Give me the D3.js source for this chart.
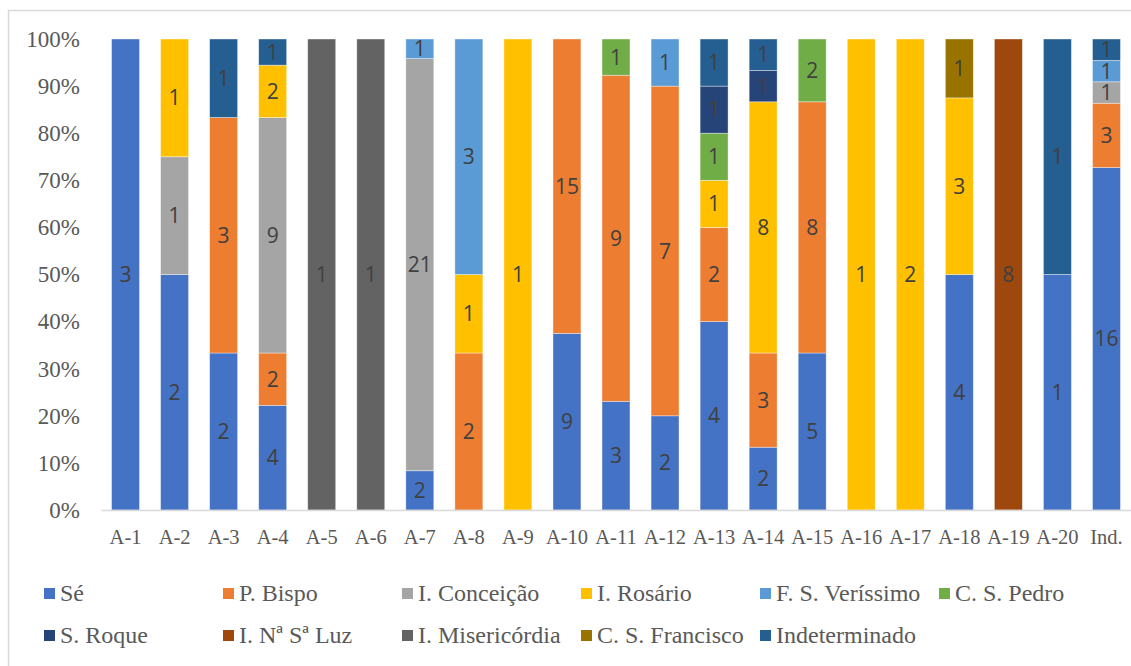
<!DOCTYPE html>
<html>
<head>
<meta charset="utf-8">
<script src="https://cdn.jsdelivr.net/npm/d3@7"></script>
<style>
  body { margin: 0; background: #fff; }
  svg { display: block; }
</style>
</head>
<body>
<svg width="1131" height="666"></svg>
<script>
// categories on the x axis
const categories = ["A-1", "A-2", "A-3", "A-4", "A-5", "A-6", "A-7", "A-8", "A-9", "A-10",
  "A-11", "A-12", "A-13", "A-14", "A-15", "A-16", "A-17", "A-18", "A-19", "A-20", "Ind."];

// series names, in stack order (bottom to top)
const seriesNames = ["Sé", "P. Bispo", "I. Conceição", "I. Rosário", "F. S. Veríssimo",
  "C. S. Pedro", "S. Roque", "I. Nª Sª Luz", "I. Misericórdia", "C. S. Francisco", "Indeterminado"];

const seriesColors = ["#4472C4", "#ED7D31", "#A5A5A5", "#FFC000", "#5B9BD5",
  "#70AD47", "#264478", "#9E480E", "#636363", "#997300", "#255E91"];

// counts per series, one value per category
const se          = [3, 2, 2, 4, 0, 0, 2, 0, 0, 9, 3, 2, 4, 2, 5, 0, 0, 4, 0, 1, 16];
const pBispo      = [0, 0, 3, 2, 0, 0, 0, 2, 0, 15, 9, 7, 2, 3, 8, 0, 0, 0, 0, 0, 3];
const iConceicao  = [0, 1, 0, 9, 0, 0, 21, 0, 0, 0, 0, 0, 0, 0, 0, 0, 0, 0, 0, 0, 1];
const iRosario    = [0, 1, 0, 2, 0, 0, 0, 1, 1, 0, 0, 0, 1, 8, 0, 1, 2, 3, 0, 0, 0];
const fsVerissimo = [0, 0, 0, 0, 0, 0, 1, 3, 0, 0, 0, 1, 0, 0, 0, 0, 0, 0, 0, 0, 1];
const csPedro     = [0, 0, 0, 0, 0, 0, 0, 0, 0, 0, 1, 0, 1, 0, 2, 0, 0, 0, 0, 0, 0];
const sRoque      = [0, 0, 0, 0, 0, 0, 0, 0, 0, 0, 0, 0, 1, 1, 0, 0, 0, 0, 0, 0, 0];
const iNSLuz      = [0, 0, 0, 0, 0, 0, 0, 0, 0, 0, 0, 0, 0, 0, 0, 0, 0, 0, 8, 0, 0];
const iMiseric    = [0, 0, 0, 0, 1, 1, 0, 0, 0, 0, 0, 0, 0, 0, 0, 0, 0, 0, 0, 0, 0];
const csFrancisco = [0, 0, 0, 0, 0, 0, 0, 0, 0, 0, 0, 0, 0, 0, 0, 0, 0, 1, 0, 0, 0];
const indeterm    = [0, 0, 1, 1, 0, 0, 0, 0, 0, 0, 0, 0, 1, 1, 0, 0, 0, 0, 0, 1, 1];

const yTicks = [0, 0.1, 0.2, 0.3, 0.4, 0.5, 0.6, 0.7, 0.8, 0.9, 1];

const seriesValues = [se, pBispo, iConceicao, iRosario, fsVerissimo, csPedro,
  sRoque, iNSLuz, iMiseric, csFrancisco, indeterm];

// legend layout: two rows, six equal columns
var legendX0 = 44, legendColW = 179;
var legendRows = [593, 635];

var serif = "'Liberation Serif', 'Times New Roman', serif";

var svg = d3.select("svg");

// table for d3.stack: one row per category, shares out of the column total
var rows = categories.map(function (c, i) {
  var row = { cat: c };
  var total = d3.sum(seriesValues, function (s) { return s[i]; });
  seriesNames.forEach(function (n, k) {
    row[n] = seriesValues[k][i] / total;
    row["n_" + n] = seriesValues[k][i];
  });
  return row;
});

var stacked = d3.stack().keys(seriesNames)(rows);

var x = d3.scaleBand()
  .domain(categories)
  .range([101, 1131])
  .paddingInner(0.43)
  .paddingOuter(0.215);

var y = d3.scaleLinear()
  .domain([0, 1])
  .range([510, 39]);

var color = d3.scaleOrdinal().domain(seriesNames).range(seriesColors);

// outer chart border
svg.append("rect")
  .attr("x", 8.5).attr("y", 10.5)
  .attr("width", 1130).attr("height", 670)
  .attr("fill", "none")
  .attr("stroke", "#d9d9d9")
  .attr("stroke-width", 1.5);

// bars
var layer = svg.append("g")
  .selectAll("g")
  .data(stacked)
  .enter().append("g")
  .attr("fill", function (d) { return color(d.key); });

layer.selectAll("rect")
  .data(function (d) { return d.filter(function (p) { return p[1] - p[0] > 0; }); })
  .enter().append("rect")
  .attr("x", function (d) { return x(d.data.cat); })
  .attr("y", function (d) { return y(d[1]); })
  .attr("width", x.bandwidth())
  .attr("height", function (d) { return y(d[0]) - y(d[1]); })
  .attr("stroke", "#ffffff")
  .attr("stroke-opacity", 0.5)
  .attr("stroke-width", 0.75);

// data labels (counts) in the middle of each segment
stacked.forEach(function (s) {
  svg.append("g")
    .selectAll("text")
    .data(s.filter(function (d) { return d[1] - d[0] > 0; }))
    .enter().append("text")
    .attr("x", function (d) { return x(d.data.cat) + x.bandwidth() / 2; })
    .attr("y", function (d) { return y((d[0] + d[1]) / 2); })
    .attr("dy", "0.36em")
    .attr("text-anchor", "middle")
    .style("font-family", "'Open Sans', sans-serif")
    .style("font-size", "21px")
    .attr("fill", "#404040")
    .text(function (d) { return d.data["n_" + s.key]; });
});

// y axis labels (no axis line)
var yAxis = svg.append("g")
  .attr("transform", "translate(80,0)")
  .call(d3.axisLeft(y).tickValues(yTicks).tickSize(0).tickPadding(0).tickFormat(d3.format(".0%")));
yAxis.select(".domain").remove();
yAxis.selectAll("text")
  .style("font-family", serif)
  .style("font-size", "23px")
  .attr("fill", "#595959");

// x axis
var xAxis = svg.append("g")
  .attr("transform", "translate(0,510)")
  .call(d3.axisBottom(x).tickSize(0).tickPadding(19));
xAxis.select(".domain")
  .attr("stroke", "#d9d9d9")
  .attr("stroke-width", 1.5);
xAxis.selectAll("text")
  .style("font-family", serif)
  .style("font-size", "20.5px")
  .attr("fill", "#595959");

// legend
var legend = svg.append("g")
  .selectAll("g")
  .data(seriesNames)
  .enter().append("g")
  .attr("transform", function (d, i) {
    return "translate(" + (legendX0 + legendColW * (i % 6)) + "," + legendRows[Math.floor(i / 6)] + ")";
  });

legend.append("rect")
  .attr("x", 0).attr("y", -5)
  .attr("width", 11).attr("height", 11)
  .attr("fill", function (d) { return color(d); });

legend.append("text")
  .attr("x", 16)
  .attr("dy", "0.33em")
  .style("font-family", serif)
  .style("font-size", "24px")
  .attr("fill", "#595959")
  .text(function (d) { return d; });
</script>
</body>
</html>
